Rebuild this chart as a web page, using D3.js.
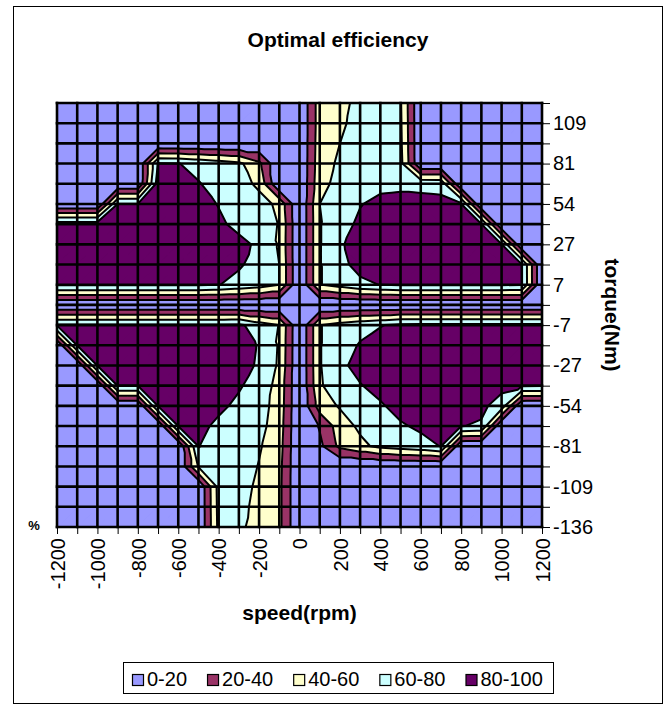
<!DOCTYPE html>
<html>
<head>
<meta charset="utf-8">
<script src="https://cdn.jsdelivr.net/npm/d3@7"></script>
<style>
  body { margin: 0; background: #fff; }
  svg { display: block; }
  text { font-family: "Liberation Sans", Arial, sans-serif; fill: #000; }
</style>
</head>
<body>
<svg id="chart" width="670" height="705"></svg>
<script>
// ---------------- data ----------------
const speeds = [-1200,-1100,-1000,-900,-800,-700,-600,-500,-400,-300,-200,-100,0,100,200,300,400,500,600,700,800,900,1000,1100,1200];
const torques = [122,109,95,81,68,54,41,27,14,7,0,-7,-14,-27,-41,-54,-68,-81,-95,-109,-122,-136];

const xTickLabels = [-1200,-1000,-800,-600,-400,-200,0,200,400,600,800,1000,1200];
const yTickLabels = [109,81,54,27,7,-7,-27,-54,-81,-109,-136];

// efficiency (%) per torque row, one value per speed
const eff_p122 = [0,0,0,0,0,0,0,0,0,0,0,0,0,50,55,65,68,62,0,0,0,0,0,0,0];
const eff_p109 = [0,0,0,0,0,0,0,0,0,0,0,0,0,50,57,66,68,63,0,0,0,0,0,0,0];
const eff_p95  = [0,0,0,0,0,0,0,0,0,0,0,0,0,51,60,67,69,64,0,0,0,0,0,0,0];
const eff_p81  = [0,0,0,0,0,81,80.5,75,70,64,45,0,0,52,63,68,70,66,0,0,0,0,0,0,0];
const eff_p68  = [0,0,0,0,0,90,85,81,74,70,55,0,0,54,66,70,75,76,75,74,0,0,0,0,0];
const eff_p54  = [0,0,0,80.5,80.5,88,88,84,79.5,75,69,55,0,60,68,79,85,86,86,85,80.5,0,0,0,0];
const eff_p41  = [89,89,89,90,90,90,90,90,82,77,69,59,0,59,72,84,90,90,90,90,90,80.5,0,0,0];
const eff_p27  = [90,90,90,90,90,90,90,90,90,83,78,58,0,59,78,87,90,90,90,90,90,90,80.5,0,0];
const eff_p14  = [90,90,90,90,90,90,90,90,90,82,74,60,0,59,75,86,88,88,88,88,88,88,88,80.5,0];
const eff_p7   = [82,82,82,82,82,82,82,82,80.5,75,70,60,0,59,68,76,80.5,82,82,82,82,82,82,81,0];
const eff_0    = [0,0,0,0,0,0,0,0,0,0,0,0,0,0,0,0,0,0,0,0,0,0,0,0,0];
const eff_m7   = [82,82,82,82,82,82,82,82,82,84,70,59.5,0,59,68,74,79,84,85,85,85,85,85,85,85];
const eff_m14  = [0,81,88,88,88,88,88,88,88,86,79,58,0,59,72,81.5,88,90,90,90,90,90,90,90,90];
const eff_m27  = [0,0,81,90,90,90,90,90,90,86,78,57,0,59,76,86,90,90,90,90,90,90,90,90,90];
const eff_m41  = [0,0,0,80.5,80.5,88,88,88,88,82,72,53,0,58,70,79,86,90,90,90,90,88,85,82,81];
const eff_m54  = [0,0,0,0,0,81,86,86,84,76,68,52,0,50,62,72,78,86,88,88,88,84,72,0,0];
const eff_m68  = [0,0,0,0,0,0,80.5,85,76,72,66,50,0,22,50,64,72,78,83,85,80.5,78,0,0,0];
const eff_m81  = [0,0,0,0,0,0,0,80.5,74,70,62,48,0,15,45,55,65,70,74,80.5,0,0,0,0,0];
const eff_m95  = [0,0,0,0,0,0,0,62,70,70,59,46,0,0,0,0,0,0,0,0,0,0,0,0,0];
const eff_m109 = [0,0,0,0,0,0,0,0,67,68,56,45,0,0,0,0,0,0,0,0,0,0,0,0,0];
const eff_m122 = [0,0,0,0,0,0,0,0,66,66,54,45,0,0,0,0,0,0,0,0,0,0,0,0,0];
const eff_m136 = [0,0,0,0,0,0,0,0,65,65,50,45,0,0,0,0,0,0,0,0,0,0,0,0,0];

const bandLabels = ["0-20","20-40","40-60","60-80","80-100"];
const bandLimits = [20,40,60,80];
const bandColors = ["#9999FF","#993366","#FFFFCC","#CCFFFF","#660066"];

const efficiency = [eff_p122,eff_p109,eff_p95,eff_p81,eff_p68,eff_p54,eff_p41,eff_p27,eff_p14,eff_p7,
  eff_0,eff_m7,eff_m14,eff_m27,eff_m41,eff_m54,eff_m68,eff_m81,eff_m95,eff_m109,eff_m122,eff_m136];

// ---------------- drawing ----------------
const svg = d3.select('#chart');
svg.append('rect').attr('x',13.5).attr('y',6.5).attr('width',649).attr('height',697)
  .attr('fill','#fff').attr('stroke','#000').attr('stroke-width',1);

const x = d3.scalePoint().domain(speeds).range([57,542]);
const y = d3.scalePoint().domain(torques).range([103,527]);

function clip(poly, t, keepAbove) {
  const out = [];
  for (let k = 0; k < poly.length; k++) {
    const a = poly[k], b = poly[(k+1) % poly.length];
    const ina = keepAbove ? a.v >= t : a.v < t;
    const inb = keepAbove ? b.v >= t : b.v < t;
    if (ina) out.push(a);
    if (ina !== inb) {
      const f = (t - a.v) / (b.v - a.v);
      out.push({x: a.x + f*(b.x-a.x), y: a.y + f*(b.y-a.y), v: t});
    }
  }
  return out;
}
const fmt = p => p.x.toFixed(2) + ',' + p.y.toFixed(2);
const bandD = bandColors.map(() => []);
const isoD = [];

for (let j = 0; j < torques.length - 1; j++) {
  for (let i = 0; i < speeds.length - 1; i++) {
    const P = (ii, jj) => ({x: x(speeds[ii]), y: y(torques[jj]), v: efficiency[jj][ii]});
    const TL = P(i,j), TR = P(i+1,j), BL = P(i,j+1), BR = P(i+1,j+1);
    const tris = Math.abs(TL.v - BR.v) < Math.abs(BL.v - TR.v)
      ? [[TL,TR,BR],[TL,BR,BL]] : [[TL,TR,BL],[TR,BR,BL]];
    tris.forEach(tri => {
      for (let k = 0; k < bandColors.length; k++) {
        let poly = tri;
        if (k > 0) poly = clip(poly, bandLimits[k-1], true);
        if (poly.length && k < bandLimits.length) poly = clip(poly, bandLimits[k], false);
        if (poly.length >= 3) bandD[k].push('M' + poly.map(fmt).join('L') + 'Z');
      }
      bandLimits.forEach(t => {
        const pts = [];
        for (let e = 0; e < 3; e++) {
          const a = tri[e], b = tri[(e+1)%3];
          if ((a.v >= t) !== (b.v >= t)) {
            const f = (t - a.v) / (b.v - a.v);
            pts.push({x: a.x + f*(b.x-a.x), y: a.y + f*(b.y-a.y)});
          }
        }
        if (pts.length === 2) isoD.push('M' + fmt(pts[0]) + 'L' + fmt(pts[1]));
      });
    });
  }
}

const plot = svg.append('g');
bandD.forEach((d, k) => {
  plot.append('path').attr('d', d.join('')).attr('fill', bandColors[k])
    .attr('stroke', bandColors[k]).attr('stroke-width', 0.7).attr('stroke-linejoin','round');
});
plot.append('path').attr('d', isoD.join('')).attr('fill','none').attr('stroke','#000')
  .attr('stroke-width', 2).attr('stroke-linecap','round');

// mesh grid
const y0 = y(torques[0]), y1 = y(torques[torques.length-1]);
const x0 = x(speeds[0]), x1 = x(speeds[speeds.length-1]);
plot.append('g').selectAll('line.v').data(speeds).join('line')
  .attr('x1', d => x(d)).attr('x2', d => x(d)).attr('y1', y0).attr('y2', y1)
  .attr('stroke','#000').attr('stroke-width',2.6).attr('stroke-linecap','square');
plot.append('g').selectAll('line.h').data(torques).join('line')
  .attr('x1', x0).attr('x2', x1).attr('y1', d => y(d)).attr('y2', d => y(d))
  .attr('stroke','#000').attr('stroke-width',2.6).attr('stroke-linecap','square');

// x axis
const xAxis = svg.append('g').attr('transform', `translate(0,${y1+1})`)
  .call(d3.axisBottom(x).tickSize(6).tickSizeOuter(0)
    .tickFormat(d => xTickLabels.includes(d) ? d : ''));
xAxis.select('.domain').remove();
xAxis.selectAll('line').attr('stroke','#000');
xAxis.selectAll('text').attr('transform','rotate(-90)').attr('x',-10).attr('y',0)
  .attr('dy','0.36em').style('text-anchor','end').style('font-size','20px')
  .style('font-family','"Liberation Sans", Arial, sans-serif').attr('fill','#000');

// y axis
const yAxis = svg.append('g').attr('transform', `translate(${x1+1},0)`)
  .call(d3.axisRight(y).tickSize(7).tickSizeOuter(0)
    .tickFormat(d => yTickLabels.includes(d) ? d : ''));
yAxis.select('.domain').remove();
yAxis.selectAll('line').attr('stroke','#000');
yAxis.selectAll('text').attr('x',10).style('font-size','20px')
  .style('font-family','"Liberation Sans", Arial, sans-serif').attr('fill','#000');

// titles
svg.append('text').attr('x',338).attr('y',47).attr('text-anchor','middle')
  .style('font-size','21px').style('font-weight','bold').text('Optimal efficiency');
svg.append('text').attr('x',(x0+x1)/2).attr('y',620).attr('text-anchor','middle')
  .style('font-size','21px').style('font-weight','bold').text('speed(rpm)');
svg.append('text').attr('transform','translate(605,315) rotate(90)').attr('text-anchor','middle')
  .style('font-size','21px').style('font-weight','bold').text('torque(Nm)');
svg.append('text').attr('x',34).attr('y',530).attr('text-anchor','middle')
  .style('font-size','13px').style('font-weight','bold').text('%');

// legend
const lg = svg.append('g');
lg.append('rect').attr('x',123.5).attr('y',662.5).attr('width',430).attr('height',31)
  .attr('fill','#fff').attr('stroke','#000').attr('stroke-width',1);
let lx = 132;
bandLabels.forEach((lab, k) => {
  lg.append('rect').attr('x', lx + 0.5).attr('y', 674.5).attr('width', 11).attr('height', 11)
    .attr('fill', bandColors[k]).attr('stroke','#000').attr('stroke-width',1.2);
  const t = lg.append('text').attr('x', lx + 15).attr('y', 686).style('font-size','20px').text(lab);
  lx += 15 + t.node().getComputedTextLength() + 20;
});
</script>
</body>
</html>
